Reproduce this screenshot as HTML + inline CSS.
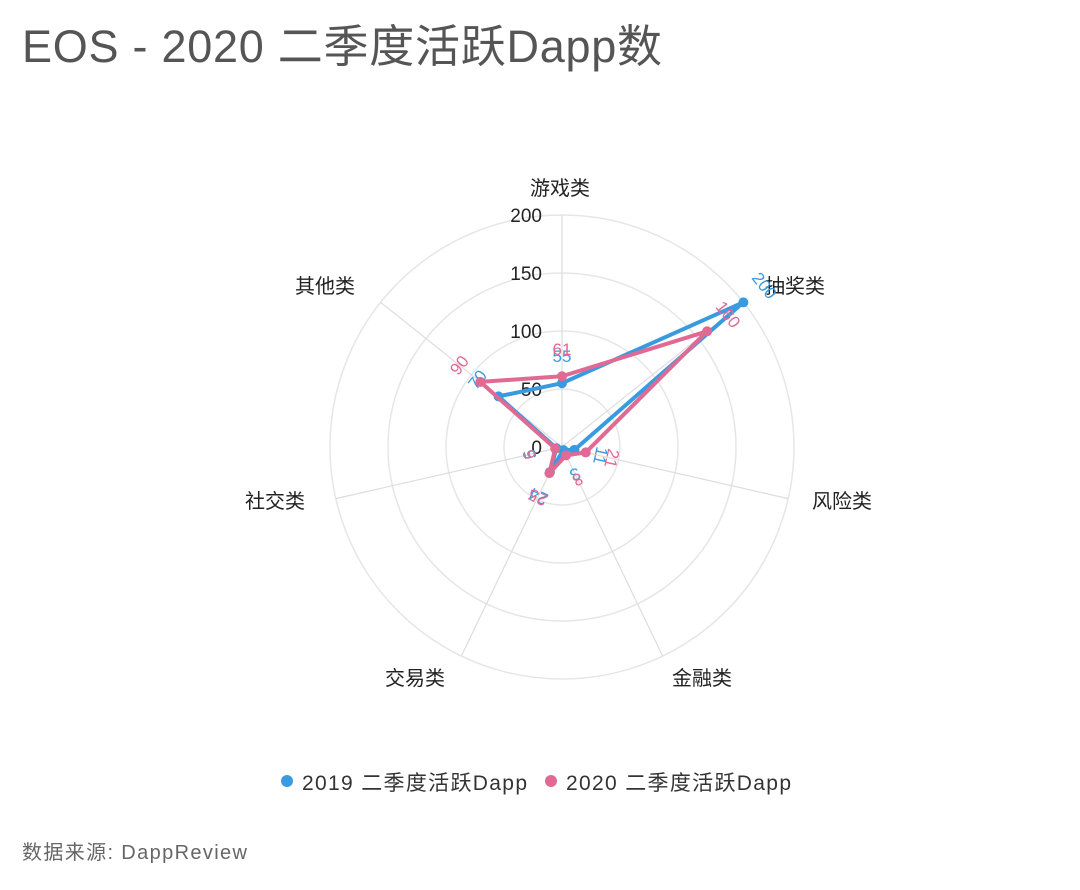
<!DOCTYPE html>
<html><head><meta charset="utf-8"><style>
body{margin:0;background:#fff;width:1080px;height:885px;overflow:hidden;font-family:"Liberation Sans","Noto Sans CJK SC",sans-serif}
</style></head><body>
<svg id="s" width="1080" height="885" xmlns="http://www.w3.org/2000/svg" font-family="Liberation Sans, Noto Sans CJK SC, sans-serif">
<text x="22" y="62" font-size="45" fill="#555" textLength="640">EOS - 2020 二季度活跃Dapp数</text>
<text x="22" y="859" font-size="20" fill="#666" textLength="225">数据来源: DappReview</text>
<circle cx="287" cy="781" r="6" fill="#3a9ae0"/>
<text x="302" y="790" font-size="21" fill="#333" textLength="225">2019 二季度活跃Dapp</text>
<circle cx="551" cy="781" r="6" fill="#e06a93"/>
<text x="566" y="790" font-size="21" fill="#333" textLength="225">2020 二季度活跃Dapp</text>
</svg>
<script>
var s=document.getElementById('s'),NS='http://www.w3.org/2000/svg';
var cx=562,cy=447,R=232,max=200;
function el(t,a,txt){var e=document.createElementNS(NS,t);for(var k in a)e.setAttribute(k,a[k]);if(txt!=null)e.textContent=txt;s.appendChild(e);return e;}
var names=['游戏类','抽奖类','风险类','金融类','交易类','社交类','其他类'];
var lp=[[530,195],[765,293],[812,508],[672,685],[385,685],[245,508],[295,293]];
[58,116,174,232].forEach(function(r){el('circle',{cx:cx,cy:cy,r:r,fill:'none',stroke:'#e6e6e6','stroke-width':1.5});});
function pt(i,v){var a=i*2*Math.PI/7;var r=v/max*R;return [cx+r*Math.sin(a),cy-r*Math.cos(a)];}
for(var i=0;i<7;i++){var p=pt(i,200);el('line',{x1:cx,y1:cy,x2:p[0],y2:p[1],stroke:'#ddd','stroke-width':1.2});
el('text',{x:lp[i][0],y:lp[i][1],'font-size':20,fill:'#222'},names[i]);}
[0,50,100,150,200].forEach(function(v){el('text',{x:cx-20,y:cy-v/max*R+7,'font-size':19,fill:'#222','text-anchor':'end'},v);});
var d19=[55,200,11,3,24,5,70],d20=[61,160,21,8,25,6,90];
function series(d,c){var ps=d.map(function(v,i){return pt(i,v).join(',');}).join(' ');
el('polygon',{points:ps,fill:'none',stroke:c,'stroke-width':4,'stroke-linejoin':'round'});
d.forEach(function(v,i){var p=pt(i,v);el('circle',{cx:p[0],cy:p[1],r:5,fill:c});
var q=pt(i,v+22);var deg=i*360/7;var rot=deg;
el('text',{x:q[0],y:q[1],'font-size':17,fill:c,'text-anchor':'middle','dominant-baseline':'middle',transform:'rotate('+rot+' '+q[0]+' '+q[1]+')'},v);});}
series(d19,'#3a9ae0');series(d20,'#e06a93');
</script>
</body></html>
